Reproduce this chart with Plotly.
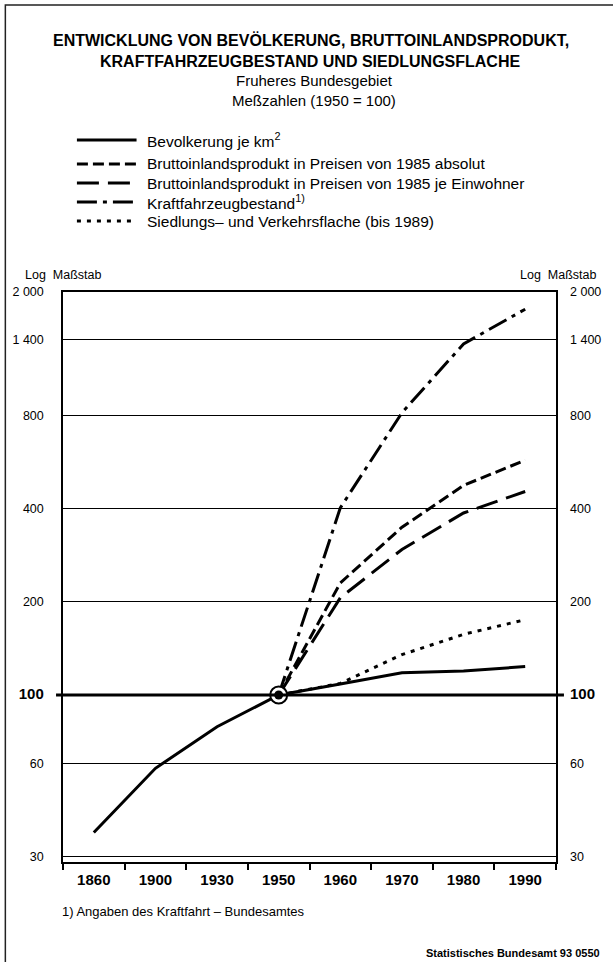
import plotly.graph_objects as go
import math

# ---- data ----
years = ["1860", "1900", "1930", "1950", "1960", "1970", "1980", "1990"]
bevoelkerung = [36, 58, 79, 100, 108.5, 118, 119.5, 123.5]
bip_absolut = [None, None, None, 100, 230, 348, 475, 573]
bip_einwohner = [None, None, None, 100, 206, 295, 387, 454]
kfz_bestand = [None, None, None, 100, 402, 815, 1360, 1760]
siedlung = [None, None, None, 100, 109, 135, 157, 175]

y_tickvals = [30, 60, 100, 200, 400, 800, 1400, 2000]
y_ticktext = ["30", "60", "<b><span style='font-size:15px'>100</span></b>", "200", "400", "800", "1 400", "2 000"]

legend_labels = [
    "Bevolkerung je km<sup>2</sup>",
    "Bruttoinlandsprodukt in Preisen von 1985 absolut",
    "Bruttoinlandsprodukt in Preisen von 1985 je Einwohner",
    "Kraftfahrzeugbestand<sup>1)</sup>",
    "Siedlungs– und Verkehrsflache (bis 1989)",
]

# ---- geometry ----
W, H = 613, 962
PL, PR, PT, PB = 63, 559, 292, 862
FONT = "Liberation Sans, Arial, Helvetica, sans-serif"


def px(x):
    return (x - PL) / (PR - PL)


def py(y):
    return (PB - y) / (PB - PT)


dashes = ["solid", "11px,5px", "22px,9px", "20px,6px,4px,6px", "4px,6px"]
series = [bevoelkerung, bip_absolut, bip_einwohner, kfz_bestand, siedlung]

fig = go.Figure()
order = [4, 1, 2, 3, 0]
for i in order:
    fig.add_trace(go.Scatter(
        x=years, y=series[i], mode="lines",
        line=dict(color="black", width=3, dash=dashes[i]),
        connectgaps=False, showlegend=False, hoverinfo="skip",
    ))

# base point 1950 = 100
fig.add_trace(go.Scatter(
    x=[years[3]], y=[bevoelkerung[3]], mode="markers",
    marker=dict(size=17, color="white", line=dict(color="black", width=2)),
    showlegend=False, hoverinfo="skip"))
fig.add_trace(go.Scatter(
    x=[years[3]], y=[bevoelkerung[3]], mode="markers",
    marker=dict(size=9, color="black"),
    showlegend=False, hoverinfo="skip"))

# dummy trace for right axis
fig.add_trace(go.Scatter(x=[years[0]], y=[None], yaxis="y2", mode="lines",
                         showlegend=False, hoverinfo="skip"))

yr = [math.log10(28.9), math.log10(2000)]

shapes = []
annotations = []

# heavy 100 line extending beyond axes
shapes.append(dict(type="line", xref="paper", yref="y", x0=px(56), x1=px(567),
                   y0=100, y1=100, line=dict(color="black", width=3), layer="above"))

# outer frame
shapes.append(dict(type="rect", xref="paper", yref="paper",
                   x0=px(5), x1=px(640), y0=py(5), y1=py(990),
                   line=dict(color="#222", width=1.5), layer="below"))

# legend
rows = [140, 164, 183, 202, 221]
for lab, d, r in zip(legend_labels, dashes, rows):
    shapes.append(dict(type="line", xref="paper", yref="paper",
                       x0=px(77), x1=px(137), y0=py(r), y1=py(r),
                       line=dict(color="black", width=3, dash=d)))
    annotations.append(dict(xref="paper", yref="paper", x=px(145), y=py(r),
                            text=lab, showarrow=False, xanchor="left", yanchor="middle",
                            font=dict(family=FONT, size=15.5, color="black")))

# titles
title_lines = [
    ("<b>ENTWICKLUNG VON BEVÖLKERUNG, BRUTTOINLANDSPRODUKT,</b>", 40, 16, 313),
    ("<b>KRAFTFAHRZEUGBESTAND UND SIEDLUNGSFLACHE</b>", 61, 16, 312),
    ("Fruheres Bundesgebiet", 81, 15, 316),
    ("Meßzahlen (1950 = 100)", 100, 15, 316),
]
for t, yy, fs, cx in title_lines:
    annotations.append(dict(xref="paper", yref="paper", x=px(cx), y=py(yy), text=t,
                            showarrow=False, xanchor="center", yanchor="middle",
                            font=dict(family=FONT, size=fs, color="black")))

annotations.append(dict(xref="paper", yref="paper", x=px(23), y=py(275), text="Log  Maßstab",
                        showarrow=False, xanchor="left", yanchor="middle",
                        font=dict(family=FONT, size=12.5, color="black")))
annotations.append(dict(xref="paper", yref="paper", x=px(601), y=py(275), text="Log  Maßstab",
                        showarrow=False, xanchor="right", yanchor="middle",
                        font=dict(family=FONT, size=12.5, color="black")))
annotations.append(dict(xref="paper", yref="paper", x=px(60), y=py(911),
                        text="1) Angaben des Kraftfahrt – Bundesamtes",
                        showarrow=False, xanchor="left", yanchor="middle",
                        font=dict(family=FONT, size=13, color="black")))
annotations.append(dict(xref="paper", yref="paper", x=px(605), y=py(953),
                        text="<b>Statistisches Bundesamt 93 0550</b>",
                        showarrow=False, xanchor="right", yanchor="middle",
                        font=dict(family=FONT, size=11, color="black")))

fig.update_layout(
    width=W, height=H,
    margin=dict(l=PL, r=W - PR, t=PT, b=H - PB, pad=0),
    paper_bgcolor="white", plot_bgcolor="white",
    font=dict(family=FONT, color="black"),
    showlegend=False,
    xaxis=dict(type="category", categoryorder="array", categoryarray=years,
               range=[-0.5, 7.5], tickson="boundaries", ticks="outside", ticklen=6,
               tickwidth=1.5, tickcolor="black", showline=True, linecolor="black",
               linewidth=1.5, mirror=True, showgrid=False,
               tickfont=dict(family=FONT, size=15, color="black"),
               tickprefix="<b>", ticksuffix="</b>", ticklabelstandoff=3),
    yaxis=dict(type="log", range=yr, tickvals=y_tickvals, ticktext=y_ticktext,
               showgrid=True, gridcolor="black", gridwidth=1, ticks="",
               showline=True, linecolor="black", linewidth=1.5, mirror=True,
               tickfont=dict(family=FONT, size=12.5, color="black"), ticklabelstandoff=15),
    yaxis2=dict(type="log", range=yr, tickvals=y_tickvals, ticktext=y_ticktext,
                overlaying="y", side="right", showgrid=False, ticks="", showline=False,
                tickfont=dict(family=FONT, size=12.5, color="black"), ticklabelstandoff=13),
    shapes=shapes,
    annotations=annotations,
)

fig.write_html("out.html")
